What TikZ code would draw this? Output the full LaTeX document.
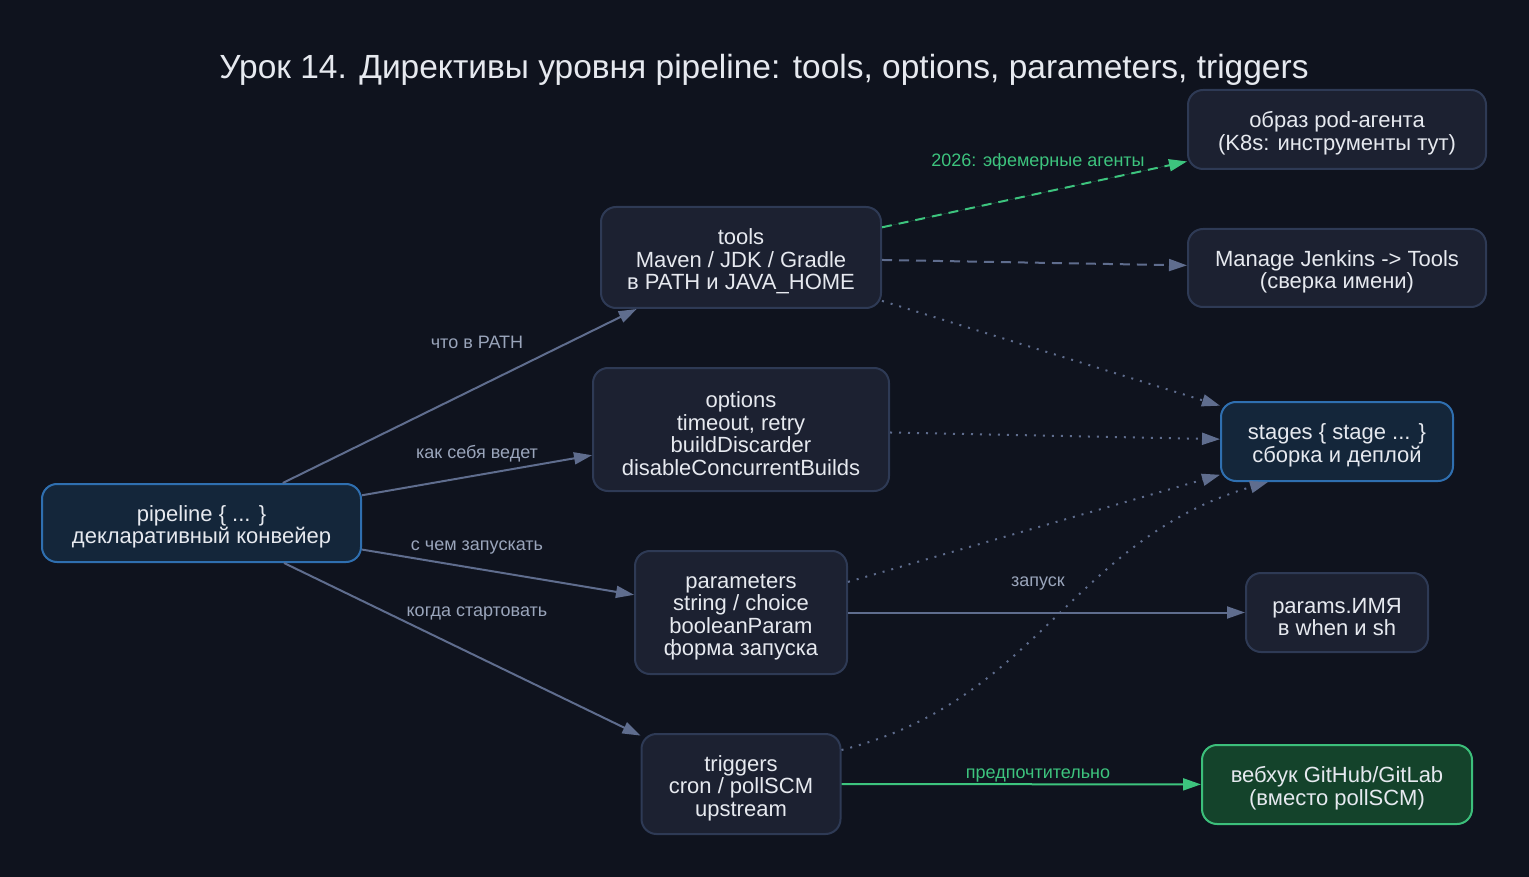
\documentclass[tikz,border=0pt]{standalone}
\usepackage{fontspec}
\setmainfont{Liberation Sans}
\usetikzlibrary{arrows.meta}
\definecolor{bg}{HTML}{0F131E}
\definecolor{nfill}{HTML}{1C2131}
\definecolor{nborder}{HTML}{2E3A55}
\definecolor{bfill}{HTML}{14263A}
\definecolor{bborder}{HTML}{2F6FB0}
\definecolor{gfill}{HTML}{14432B}
\definecolor{gborder}{HTML}{3CBF7B}
\definecolor{txt}{HTML}{E6E9EF}
\definecolor{edge}{HTML}{5F6D8E}
\definecolor{lbl}{HTML}{9AA5BB}
\definecolor{grn}{HTML}{3DC47E}
\newcommand{\tp}{\rule{0pt}{24pt}}
\tikzset{
  box/.style={draw=nborder, fill=nfill, line width=2pt, rounded corners=15pt,
    text=txt, align=center, inner sep=0pt,
    font=\fontsize{22}{22.5}\selectfont},
  bluebox/.style={box, draw=bborder, fill=bfill},
  greenbox/.style={box, draw=gborder, fill=gfill},
  conn/.style={draw=edge, line width=2pt, -{Triangle[length=18pt,width=12pt]}},
  gconn/.style={conn, draw=grn, fill=grn},
  elabel/.style={text=lbl, font=\fontsize{18}{20}\selectfont, inner sep=0pt},
  glabel/.style={elabel, text=grn},
  dashline/.style={dash pattern=on 10pt off 7pt},
  dotline/.style={dash pattern=on 2pt off 7pt},
}
\begin{document}
\begin{tikzpicture}[x=1pt,y=-1pt]
\fill[bg] (0,0) rectangle (1529,877);
\useasboundingbox (0,0) rectangle (1529,877);

\node[text=txt, font=\fontsize{33.5}{36}\selectfont] (title) at (764,70) {Урок 14. Директивы уровня pipeline: tools, options, parameters, triggers};

\node[bluebox, minimum width=319pt, minimum height=78pt] (pipe) at (201.5,523) {\tp pipeline \{ ... \}\\декларативный конвейер};
\node[box, minimum width=280pt, minimum height=101pt] (tools) at (741,257.5) {\tp tools\\Maven / JDK / Gradle\\в PATH и JAVA\_HOME};
\node[box, minimum width=296pt, minimum height=123pt] (opts) at (741,429.5) {\tp options\\timeout, retry\\buildDiscarder\\disableConcurrentBuilds};
\node[box, minimum width=212pt, minimum height=123pt] (pars) at (741,612.5) {\tp parameters\\string / choice\\booleanParam\\форма запуска};
\node[box, minimum width=199pt, minimum height=100pt] (trig) at (741,784) {\tp triggers\\cron / pollSCM\\upstream};
\node[box, minimum width=298pt, minimum height=79pt] (pod) at (1337,129.5) {\tp образ pod-агента\\(K8s: инструменты тут)};
\node[box, minimum width=298pt, minimum height=78pt] (manage) at (1337,268) {\tp Manage Jenkins -> Tools\\(сверка имени)};
\node[bluebox, minimum width=232pt, minimum height=79pt] (stages) at (1337,441.5) {\tp stages \{ stage ... \}\\сборка и деплой};
\node[box, minimum width=182pt, minimum height=79pt] (params) at (1337,612.5) {\tp params.ИМЯ\\в when и sh};
\node[greenbox, minimum width=270pt, minimum height=79pt] (hook) at (1337,784.5) {\tp вебхук GitHub/GitLab\\(вместо pollSCM)};

\draw[conn] (pipe) -- (tools);
\draw[conn] (pipe) -- (opts);
\draw[conn] (pipe) -- (pars);
\draw[conn] (pipe) -- (trig);
\draw[gconn, dashline] (tools) -- (pod);
\draw[conn, dashline] (tools) -- (manage);
\draw[conn, dotline] (tools) -- (stages);
\draw[conn, dotline] (opts) -- (stages);
\draw[conn, dotline] (pars) -- (stages);
\draw[conn, dotline] ([yshift=34pt]trig.east) .. controls (1040,700) and (1070,540) .. ([xshift=-69pt]stages.south);
\draw[conn] (pars) -- (params);
\draw[gconn] (trig) -- (hook);

\node[elabel] (l1) at (477,342) {что в PATH};
\node[elabel] (l2) at (477,454) {как себя ведет};
\node[elabel] (l3) at (477,548) {с чем запускать};
\node[elabel] (l4) at (477,614) {когда стартовать};
\node[glabel] (l5) at (1038,162) {2026: эфемерные агенты};
\node[elabel] (l6) at (1038,584) {запуск};
\node[glabel] (l7) at (1038,776) {предпочтительно};
\end{tikzpicture}
\end{document}
